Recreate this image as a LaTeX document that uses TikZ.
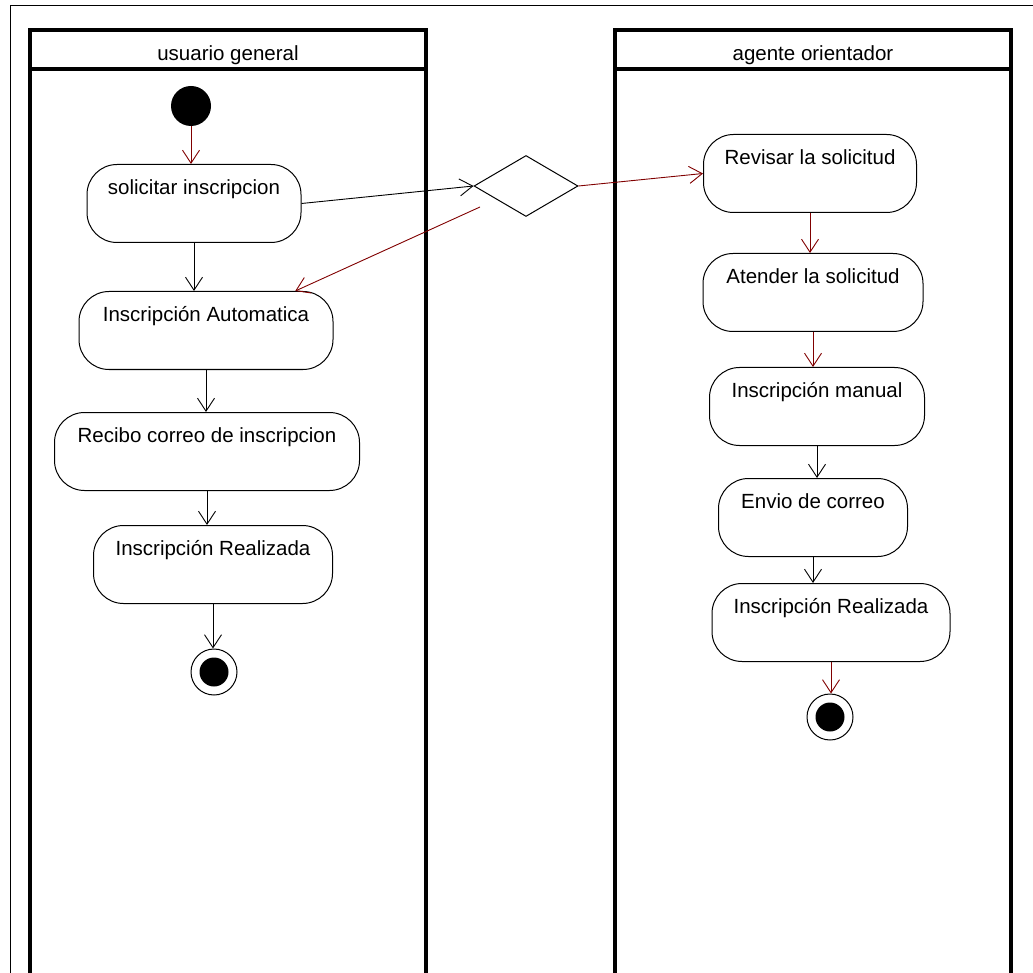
\documentclass[tikz,border=0pt]{standalone}
\usepackage{fontspec}
\setmainfont{Liberation Sans}
\usetikzlibrary{calc,shapes.geometric,arrows.meta}
\definecolor{flowred}{RGB}{128,0,0}

\begin{document}
\begin{tikzpicture}[x=1pt,y=-1pt,font=\fontsize{20.5}{24}\selectfont,
    lane/.style={line width=3.2pt},
    act/.style={draw,line width=1pt,rounded corners=30pt,anchor=north,text height=23pt,text depth=41pt,inner ysep=7pt,inner xsep=0pt},
    flow/.style={-{Straight Barb[length=13pt,width=17pt]},line width=0.9pt},
    redflow/.style={flow,flowred},
    startnode/.style={circle,fill,minimum size=40pt,inner sep=0pt},
    endnode/.style={circle,draw,line width=1pt,minimum size=46pt,inner sep=0pt,
      path picture={\fill (path picture bounding box.center) circle (14.5pt);}},
    decision/.style={diamond,draw,line width=1pt,minimum width=104pt,minimum height=61pt,inner sep=0pt}]
      \useasboundingbox (0,0) rectangle (1033,973);
      \draw[line width=1pt] (10,973) -- (10,6) -- (1033,6);
      \draw[lane] (30,973) -- (30,30) -- (426,30) -- (426,973);
      \draw[lane] (30,69) -- (426,69);
      \draw[lane] (615,973) -- (615,30) -- (1011,30) -- (1011,973);
      \draw[lane] (615,69) -- (1011,69);
      \node[anchor=base] (usuario) at (228,61) {usuario general};
      \node[anchor=base] (agente) at (813,61) {agente orientador};

      \node[startnode] (ini) at (191,106) {};
      \node[act,minimum width=214pt] (solic) at (194,164) {solicitar inscripcion};
      \node[act,minimum width=254pt] (auto) at (206,291) {Inscripción Automatica};
      \node[act,minimum width=305pt] (recibo) at (207,412) {Recibo correo de inscripcion};
      \node[act,minimum width=239pt] (real1) at (213,525) {Inscripción Realizada};
      \node[endnode] (fin1) at (214,672) {};

      \node[decision] (dec) at (526,186) {};
      \coordinate (back) at (480,207);

      \node[act,minimum width=213pt] (revisar) at (810,134) {Revisar la solicitud};
      \node[act,minimum width=220pt] (atender) at (813,253) {Atender la solicitud};
      \node[act,minimum width=215pt] (manual) at (817,367) {Inscripción manual};
      \node[act,minimum width=189pt] (envio) at (813,478) {Envio de correo};
      \node[act,minimum width=238pt] (real2) at (831,583) {Inscripción Realizada};
      \node[endnode] (fin2) at (830,717) {};

      \draw[redflow] (ini.south) -- (ini.south |- solic.north);
      \draw[flow] (solic.south) -- (solic.south |- auto.north);
      \draw[flow] (auto.south) -- (auto.south |- recibo.north);
      \draw[flow] (recibo.south) -- (recibo.south |- real1.north);
      \draw[flow] (real1.south) -- (real1.south |- fin1.north);
      \draw[flow] (solic.east) -- (dec.west);
      \draw[redflow] (dec.east) -- (revisar.west);
      \draw[redflow] (back) -- ($(auto.north)!0.7!(auto.north east)$);
      \draw[redflow] (revisar.south) -- (revisar.south |- atender.north);
      \draw[redflow] (atender.south) -- (atender.south |- manual.north);
      \draw[flow] (manual.south) -- (manual.south |- envio.north);
      \draw[flow] (envio.south) -- (envio.south |- real2.north);
      \draw[redflow] (real2.south) -- (real2.south |- fin2.north);
\end{tikzpicture}
\end{document}
